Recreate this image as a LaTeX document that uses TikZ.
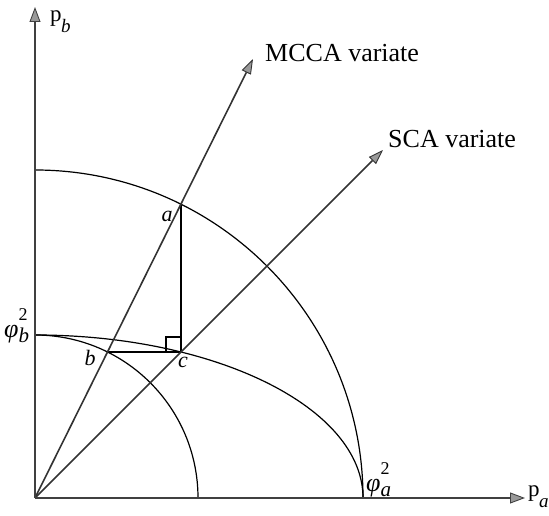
\documentclass[tikz,border=0pt]{standalone}
\usepackage{fontspec}
\setmainfont{Liberation Serif}
\usetikzlibrary{arrows.meta}
\newcommand\phisq[1]{\textit{φ}\rlap{\raisebox{17pt}{\fontsize{18}{18}\selectfont 2}}\raisebox{-5pt}{\fontsize{21}{21}\selectfont\itshape #1}}
\newcommand\paxis[1]{p\kern-0.5pt\raisebox{-11pt}{\fontsize{19}{19}\selectfont\itshape #1}}
\begin{document}
\begin{tikzpicture}[x=1pt,y=1pt,
  axisline/.style={draw=black!75, line width=2.4pt,
    -{Triangle[length=15pt,width=11pt,fill=black!40,line width=0.9pt]}},
  varline/.style={draw=black!80, line width=1.6pt,
    -{Triangle[length=15pt,width=10pt,fill=black!40,line width=0.9pt]}},
  arcline/.style={draw=black, line width=1.2pt},
  thin/.style={draw=black, line width=1.1pt},
  bigtxt/.style={inner sep=0pt, font=\fontsize{26}{30}\selectfont},
  lettxt/.style={inner sep=0pt, font=\fontsize{22}{26}\selectfont\itshape},
  phitxt/.style={inner sep=0pt, font=\fontsize{26}{30}\selectfont},
  ptxt/.style={inner sep=0pt, font=\fontsize{23}{28}\selectfont}]
\useasboundingbox (0,0) rectangle (549,516);
% key points
\coordinate (O) at (35,18);
\coordinate (ytip) at (35,509);
\coordinate (xtip) at (525,18);
\coordinate (Rtop) at (35,346);
\coordinate (rtop) at (35,181);
\coordinate (a) at (181,311.7);
\coordinate (b) at (107.6,164);
\coordinate (c) at (181,164);
\coordinate (mtip) at (253,457);
\coordinate (stip) at (383,366);
% arcs
\draw[arcline] (Rtop) arc[start angle=90,end angle=0,radius=328];
\draw[arcline] (rtop) arc[start angle=90,end angle=0,x radius=328,y radius=163];
\draw[arcline] (rtop) arc[start angle=90,end angle=0,radius=163];
% construction lines
\draw[thin] (a) -- (c);
\draw[thin] (b) -- (c);
\draw[thin] (c) ++(-15,0) -- ++(0,15) -- ++(15,0);
% variates
\draw[varline] (O) -- (mtip);
\draw[varline] (O) -- (stip);
% axes
\draw[axisline] (O) -- (ytip);
\draw[axisline] (O) -- (xtip);
% labels
\node[bigtxt, anchor=base west] (mlab) at (265,454) {MCCA variate};
\node[bigtxt, anchor=base west] (slab) at (388,368) {SCA variate};
\node[ptxt, anchor=base west] (pb) at (50,494) {\paxis{b}};
\node[ptxt, anchor=base west] (pa) at (528,19) {\paxis{a}};
\node[phitxt, anchor=base west] (phia) at (366,24) {\phisq{a}};
\node[phitxt, anchor=base west] (phib) at (4,178) {\phisq{b}};
\node[lettxt] (la) at (167,300) {a};
\node[lettxt] (lb) at (90,158) {b};
\node[lettxt] (lc) at (183,154) {c};
\end{tikzpicture}
\end{document}
